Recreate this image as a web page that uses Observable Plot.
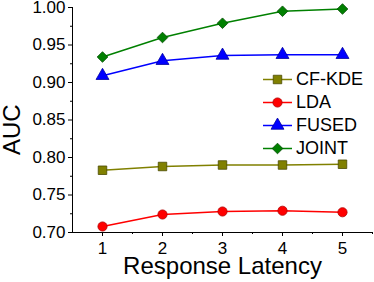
<!DOCTYPE html>
<html><head><meta charset="utf-8">
<script src="https://cdn.jsdelivr.net/npm/d3@7"></script>
<script src="https://cdn.jsdelivr.net/npm/@observablehq/plot@0.6"></script>
<style>
body{margin:0;background:#fff;}
#wrap{position:relative;width:374px;height:282px;font-family:"Liberation Sans",Arial,sans-serif;}
#legend{position:absolute;left:263px;top:68px;}
.row{display:flex;align-items:center;height:23px;font-size:18px;color:#000;}
.row svg{display:block;margin-right:4px;}
</style></head><body><div id="wrap"></div>
<script>
const latency = [1, 2, 3, 4, 5];
const seriesNames = ["CF-KDE", "LDA", "FUSED", "JOINT"];
const cfkde = [0.783, 0.788, 0.790, 0.790, 0.791];
const lda   = [0.708, 0.724, 0.728, 0.729, 0.727];
const fused = [0.909, 0.929, 0.936, 0.937, 0.937];
const joint = [0.934, 0.960, 0.979, 0.995, 0.998];
const yTicks = [0.70, 0.75, 0.80, 0.85, 0.90, 0.95, 1.00];
const yMinor = [0.725, 0.775, 0.825, 0.875, 0.925, 0.975];
const xMinor = [1.5, 2.5, 3.5, 4.5, 5.5];
const xLabel = "Response Latency";
const yLabel = "AUC";

const colors  = ["#808000", "#ff0000", "#0000ff", "#008000"];
const strokes = ["#4a4a00", "#b00000", "#0000a0", "#004a00"];
const symbols = [d3.symbolSquare, d3.symbolCircle, d3.symbolTriangle, d3.symbolDiamond2];
const radii   = [4.8, 4.6, 4.8, 4.8];
const values  = [cfkde, lda, fused, joint];

const seriesMarks = [];
seriesNames.forEach((name, i) => {
  const rows = latency.map((x, j) => ({series: name, x, y: values[i][j]}));
  seriesMarks.push(Plot.line(rows, {x: "x", y: "y", stroke: colors[i], strokeWidth: 1.5}));
});
seriesNames.forEach((name, i) => {
  const rows = latency.map((x, j) => ({series: name, x, y: values[i][j]}));
  seriesMarks.push(Plot.dot(rows, {x: "x", y: "y", symbol: symbols[i], r: radii[i], fill: colors[i], stroke: strokes[i], strokeWidth: 0.8}));
});

const chart = Plot.plot({
  width: 374, height: 282,
  marginLeft: 72, marginRight: 2, marginTop: 7, marginBottom: 50,
  style: {fontFamily: "Liberation Sans, Arial, sans-serif", fontSize: "17px", background: "white", color: "black"},
  x: {domain: [0.5, 5.5]},
  y: {domain: [0.70, 1.00]},
  marks: [
    Plot.axisY(yTicks, {tickSize: 4, tickPadding: 3, tickFormat: d3.format(".2f"), fontSize: 17, label: null}),
    Plot.axisY(yMinor, {tickSize: 2, tickFormat: () => "", label: null}),
    Plot.axisX(latency, {tickSize: 4, tickPadding: 5, fontSize: 17, label: null}),
    Plot.axisX(xMinor, {tickSize: 2, tickFormat: () => "", label: null}),
    Plot.ruleX([0.5], {stroke: "black"}),
    Plot.ruleY([0.70], {stroke: "black"}),
    ...seriesMarks,
    Plot.text([xLabel], {text: d => d, frameAnchor: "bottom", dy: 41, fontSize: 24}),
    Plot.text([yLabel], {text: d => d, frameAnchor: "left", rotate: -90, dx: -60, dy: 35, fontSize: 24})
  ]
});

const wrap = document.getElementById("wrap");
wrap.appendChild(chart);

const legend = d3.select(wrap).append("div").attr("id", "legend");
seriesNames.forEach((name, i) => {
  const row = legend.append("div").attr("class", "row");
  const svg = row.append("svg").attr("width", 29).attr("height", 23);
  svg.append("line").attr("x1", 0).attr("x2", 29).attr("y1", 11.5).attr("y2", 11.5)
    .attr("stroke", colors[i]).attr("stroke-width", 1.5);
  svg.append("path").attr("transform", "translate(14.5,11.5)")
    .attr("d", d3.symbol(symbols[i], Math.PI * radii[i] * radii[i])())
    .attr("fill", colors[i]).attr("stroke", strokes[i]).attr("stroke-width", 0.8);
  row.append("span").text(name);
});
</script>
</body></html>
